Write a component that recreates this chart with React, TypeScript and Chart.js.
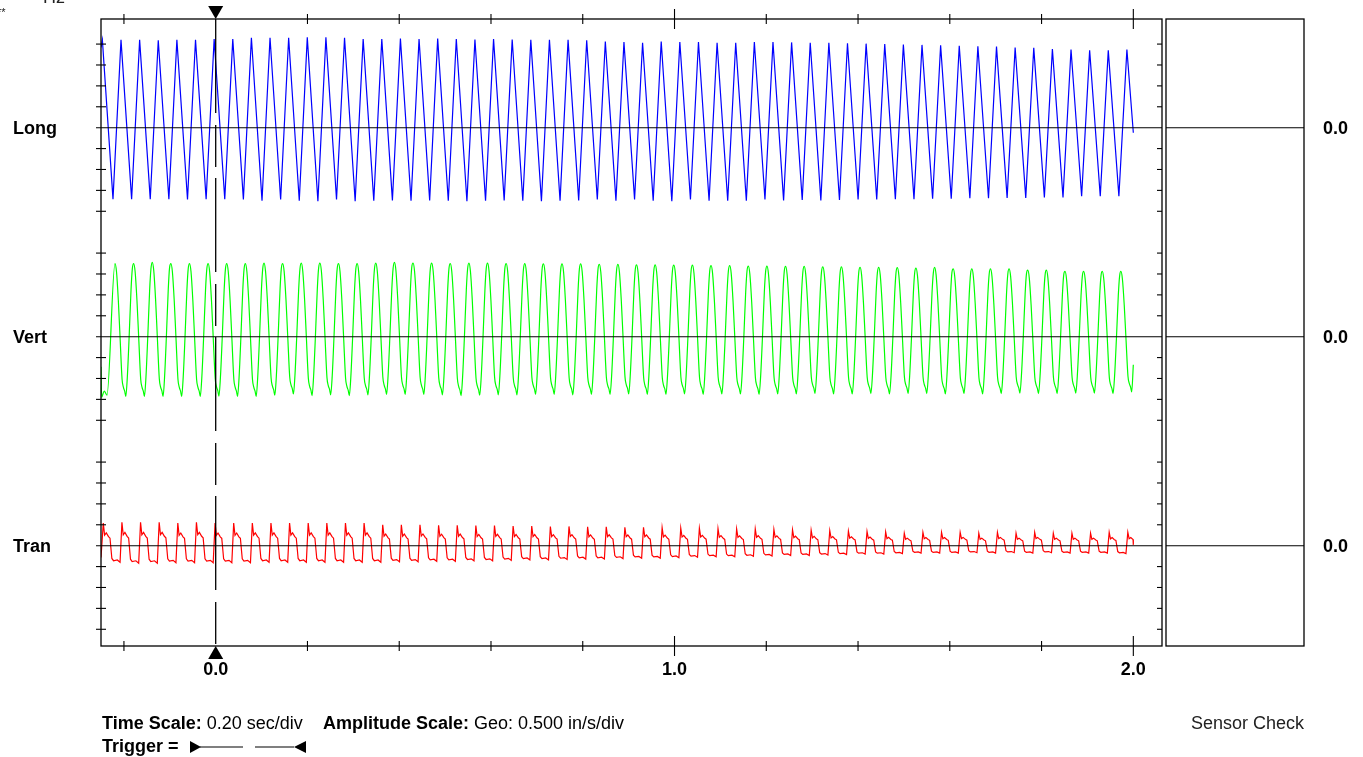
import React, { useEffect, useRef } from "react";
import { Chart, registerables } from "chart.js";

Chart.register(...registerables);

// ---- time base (seconds) read from the record ----
const PERIOD_S = 0.0406;
const TRACE_START_S = -0.25;
const TRACE_END_S = 2.0;
const X_MIN_S = -0.25;
const X_MAX_S = 2.0625;

// ---- Long channel (in/s) ----
const LONG_FIRST_PEAK_S = -0.247;
const LONG_TROUGH_PHASE = 0.57;
const LONG_START = 1.92;
const LONG_END = -0.12;
const LONG_PEAKS = [
  2.10, 2.10, 2.10, 2.09, 2.10, 2.10, 2.12, 2.12, 2.15, 2.15, 2.15, 2.16, 2.16, 2.15, 2.12, 2.12,
  2.13, 2.12, 2.13, 2.12, 2.11, 2.12, 2.11, 2.10, 2.10, 2.10,
  2.09, 2.06, 2.05, 2.03, 2.06, 2.05, 2.05, 2.03, 2.03, 2.05, 2.05,
  2.04, 2.03, 2.03, 2.02, 2.01, 2.00, 1.99, 1.98, 1.97, 1.96, 1.95, 1.94, 1.92,
  1.91, 1.88, 1.87, 1.85, 1.85, 1.87,
];
const LONG_TROUGHS = [
  -1.71, -1.71, -1.71, -1.71, -1.72, -1.71, -1.71, -1.72, -1.75, -1.72, -1.75, -1.76, -1.72, -1.76, -1.75,
  -1.74, -1.75, -1.74, -1.75, -1.76, -1.75, -1.74, -1.75, -1.76, -1.75, -1.74,
  -1.72, -1.75, -1.72, -1.75, -1.76, -1.72, -1.75, -1.75, -1.75, -1.72,
  -1.74, -1.73, -1.74, -1.73, -1.72, -1.72, -1.71, -1.71, -1.70, -1.70, -1.69, -1.69, -1.68, -1.68,
  -1.67, -1.67, -1.64, -1.64, -1.64,
];

// ---- Vert channel (in/s) ----
const VERT_FIRST_PEAK_S = -0.2195;
const VERT_LEAD_S = [-0.25, -0.2485, -0.243, -0.237];
const VERT_LEAD = [-0.72, -1.45, -1.3, -1.4];
const VERT_END = -0.67;
// one cycle of the Vert waveform: phase within the period, level between dip (0) and peak (1)
const VERT_SHAPE_PHASES = [0, 0.08, 0.18, 0.28, 0.38, 0.45, 0.52, 0.58, 0.66, 0.76, 0.86, 0.93];
const VERT_SHAPE_LEVELS = [1, 0.94, 0.72, 0.42, 0.13, 0.07, 0.04, 0, 0.14, 0.45, 0.8, 0.96];
const VERT_PEAKS = [
  1.75, 1.75, 1.78, 1.75, 1.75, 1.75, 1.75, 1.75,
  1.76, 1.75,
  1.76, 1.76, 1.75, 1.75, 1.76, 1.78, 1.76, 1.76, 1.75, 1.76, 1.76,
  1.75, 1.75, 1.74, 1.74, 1.74, 1.73, 1.73, 1.72, 1.72, 1.71, 1.71, 1.70, 1.70, 1.69, 1.69,
  1.68, 1.68, 1.67, 1.67, 1.66, 1.66, 1.65,
  1.64, 1.66, 1.62, 1.62, 1.62, 1.62, 1.59, 1.59, 1.56, 1.56, 1.56, 1.56,
];
const VERT_DIPS = [
  -1.43, -1.43, -1.43, -1.43, -1.43, -1.42, -1.43, -1.43,
  -1.40, -1.37, -1.41, -1.39, -1.41, -1.39, -1.38, -1.38, -1.38, -1.39, -1.41, -1.40, -1.39,
  -1.39, -1.38, -1.38, -1.39, -1.38, -1.38, -1.37, -1.38, -1.38, -1.37, -1.38, -1.37, -1.37, -1.38, -1.37, -1.37, -1.36, -1.37, -1.37, -1.36, -1.37, -1.36,
  -1.36, -1.37, -1.36, -1.37, -1.36, -1.35, -1.36, -1.36, -1.35, -1.35, -1.36, -1.32,
];

// ---- Tran channel (in/s) ----
const TRAN_FIRST_SPIKE_S = -0.245;
const TRAN_START = -0.28;
const TRAN_END = 0.02;
const TRAN_SHAPE_PHASES = [0, 0.07, 0.16, 0.28, 0.36, 0.46, 0.55, 0.75, 0.9];
const TRAN_SHAPE_LEVELS = [1, 0.68, 0.74, 0.64, 0.6, 0.06, 0, 0.02, -0.04];
const TRAN_SPIKES = [
  0.54, 0.56, 0.56, 0.56, 0.54, 0.56, 0.54, 0.54, 0.54, 0.54, 0.54, 0.54, 0.54, 0.54, 0.54, 0.50,
  0.50, 0.50, 0.49, 0.49, 0.48, 0.48, 0.47, 0.47, 0.46, 0.46, 0.45, 0.45, 0.44, 0.44, 0.43, 0.42,
  0.42, 0.41, 0.40, 0.40, 0.39, 0.38, 0.37, 0.36, 0.35, 0.34, 0.33,
  0.30, 0.32, 0.32, 0.32, 0.30, 0.32, 0.30, 0.32, 0.30, 0.30, 0.30, 0.32, 0.32,
];
const TRAN_BOTTOMS = [
  -0.36, -0.38, -0.38, -0.37, -0.37, -0.37, -0.37, -0.37, -0.36, -0.36, -0.36, -0.36, -0.36, -0.36, -0.36, -0.35,
  -0.35, -0.34, -0.34, -0.33, -0.33, -0.32, -0.31, -0.31, -0.30, -0.29, -0.29, -0.28, -0.27, -0.27, -0.26, -0.25,
  -0.24, -0.24, -0.23, -0.22, -0.21, -0.21, -0.20, -0.19, -0.18, -0.18, -0.17,
  -0.16, -0.16, -0.16, -0.15, -0.16, -0.15, -0.16, -0.15, -0.16, -0.16, -0.16, -0.17, -0.16,
];

// ---- axes / labels ----
const CHANNELS = ["Long", "Vert", "Tran"];
const CHANNEL_AXES = ["yLong", "yVert", "yTran"];
const CHANNEL_COLORS = ["#0000ff", "#00ff00", "#ff0000"];
const CHANNEL_RANGES = [
  [-12.4, 2.6],
  [-7.4, 7.6],
  [-2.4, 12.6],
];
const Y_TICKS = [-2, -1.5, -1, -0.5, 0.5, 1, 1.5, 2];
const X_MINOR_TICKS = [-0.2, 0.2, 0.4, 0.6, 0.8, 1.2, 1.4, 1.6, 1.8];
const X_MAJOR_TICKS = [1.0, 2.0];
const X_LABELS = [0, 1, 2];
const TRIGGER_S = 0;

type P = { x: number; y: number };

function buildLong(): P[] {
  const pts: P[] = [{ x: TRACE_START_S, y: LONG_START }];
  LONG_PEAKS.forEach((p, i) => {
    const t = LONG_FIRST_PEAK_S + i * PERIOD_S;
    pts.push({ x: t, y: p });
    if (i < LONG_TROUGHS.length) pts.push({ x: t + LONG_TROUGH_PHASE * PERIOD_S, y: LONG_TROUGHS[i] });
  });
  pts.push({ x: TRACE_END_S, y: LONG_END });
  return pts;
}

function buildVert(): P[] {
  const pts: P[] = VERT_LEAD_S.map((t, k) => ({ x: t, y: VERT_LEAD[k] }));
  VERT_PEAKS.forEach((p, i) => {
    const t0 = VERT_FIRST_PEAK_S + i * PERIOD_S;
    const d = VERT_DIPS[i];
    VERT_SHAPE_PHASES.forEach((ph, k) => {
      const t = t0 + ph * PERIOD_S;
      if (t < TRACE_END_S - 0.0005) pts.push({ x: t, y: d + VERT_SHAPE_LEVELS[k] * (p - d) });
    });
  });
  pts.push({ x: TRACE_END_S, y: VERT_END });
  return pts;
}

function buildTran(): P[] {
  const pts: P[] = [{ x: TRACE_START_S, y: TRAN_START }];
  TRAN_SPIKES.forEach((s, i) => {
    const t0 = TRAN_FIRST_SPIKE_S + i * PERIOD_S;
    const b = TRAN_BOTTOMS[i];
    TRAN_SHAPE_PHASES.forEach((ph, k) => {
      const t = t0 + ph * PERIOD_S;
      if (t < TRACE_END_S) pts.push({ x: t, y: b + TRAN_SHAPE_LEVELS[k] * (s - b) });
    });
  });
  pts.push({ x: TRACE_END_S, y: TRAN_END });
  return pts;
}

const BOLD = "bold 18px 'Liberation Sans', Arial, sans-serif";
const REG = "18px 'Liberation Sans', Arial, sans-serif";

const framePlugin = {
  id: "seismoFrame",
  afterDatasetsDraw(chart: any) {
    const { ctx, chartArea: a, scales } = chart;
    const xs = scales.x;
    const rbLeft = a.right + 4;
    const rbRight = a.right + 142;
    const line = (x1: number, y1: number, x2: number, y2: number) => {
      ctx.beginPath();
      ctx.moveTo(x1, y1);
      ctx.lineTo(x2, y2);
      ctx.stroke();
    };
    ctx.save();
    ctx.strokeStyle = "#000";
    ctx.fillStyle = "#000";
    ctx.lineWidth = 1.3;
    ctx.strokeRect(a.left, a.top, a.right - a.left, a.bottom - a.top);
    ctx.strokeRect(rbLeft, a.top, rbRight - rbLeft, a.bottom - a.top);

    ctx.lineWidth = 1.1;
    ctx.font = BOLD;
    ctx.textBaseline = "alphabetic";
    CHANNEL_AXES.forEach((id, k) => {
      const s = scales[id];
      const y0 = s.getPixelForValue(0);
      line(a.left - 5, y0, a.right, y0);
      line(rbLeft, y0, rbRight, y0);
      Y_TICKS.forEach((v) => {
        const y = s.getPixelForValue(v);
        line(a.left - 5, y, a.left + 5, y);
        line(a.right - 5, y, a.right, y);
      });
      ctx.textAlign = "left";
      ctx.fillText(CHANNELS[k], 13, y0 + 6.5);
      ctx.fillText("0.0", 1323, y0 + 6.5);
    });

    X_MINOR_TICKS.forEach((t) => {
      const x = xs.getPixelForValue(t);
      line(x, a.top - 5, x, a.top + 5);
      line(x, a.bottom - 5, x, a.bottom + 5);
    });
    X_MAJOR_TICKS.forEach((t) => {
      const x = xs.getPixelForValue(t);
      line(x, a.top - 10, x, a.top + 10);
      line(x, a.bottom - 10, x, a.bottom + 10);
    });
    ctx.textAlign = "center";
    X_LABELS.forEach((t) => {
      const x = xs.getPixelForValue(t);
      ctx.fillText(t.toFixed(1), x, a.bottom + 29);
    });

    // trigger line (long-short dash) and markers
    const xt = xs.getPixelForValue(TRIGGER_S);
    ctx.lineWidth = 1.3;
    ctx.setLineDash([94, 12, 42, 11]);
    line(xt, a.top, xt, a.bottom);
    ctx.setLineDash([]);
    ctx.beginPath();
    ctx.moveTo(xt - 7.5, a.top - 13);
    ctx.lineTo(xt + 7.5, a.top - 13);
    ctx.lineTo(xt, a.top);
    ctx.closePath();
    ctx.fill();
    ctx.beginPath();
    ctx.moveTo(xt - 7.5, a.bottom + 13);
    ctx.lineTo(xt + 7.5, a.bottom + 13);
    ctx.lineTo(xt, a.bottom);
    ctx.closePath();
    ctx.fill();

    // footer
    ctx.textAlign = "left";
    const y1 = 729;
    const y2 = 752;
    ctx.font = BOLD;
    ctx.fillText("Time Scale:", 102, y1);
    let w = ctx.measureText("Time Scale: ").width;
    ctx.font = REG;
    ctx.fillText("0.20 sec/div", 102 + w, y1);
    ctx.font = BOLD;
    ctx.fillText("Amplitude Scale:", 323, y1);
    w = ctx.measureText("Amplitude Scale: ").width;
    ctx.font = REG;
    ctx.fillText("Geo: 0.500 in/s/div", 323 + w, y1);
    ctx.textAlign = "right";
    ctx.fillStyle = "#222";
    ctx.fillText("Sensor Check", 1304, y1);
    ctx.fillStyle = "#000";
    ctx.textAlign = "left";
    ctx.font = BOLD;
    ctx.fillText("Trigger =", 102, y2);
    const ym = 747;
    ctx.beginPath();
    ctx.moveTo(190, ym - 6);
    ctx.lineTo(201, ym);
    ctx.lineTo(190, ym + 6);
    ctx.closePath();
    ctx.fill();
    ctx.lineWidth = 1.2;
    line(200, ym, 243, ym);
    line(255, ym, 294, ym);
    ctx.beginPath();
    ctx.moveTo(306, ym - 6);
    ctx.lineTo(294, ym);
    ctx.lineTo(306, ym + 6);
    ctx.closePath();
    ctx.fill();

    // clipped header remnants
    ctx.font = REG;
    ctx.fillStyle = "#222";
    ctx.fillText("Hz", 43, 3);
    ctx.font = "11px 'Liberation Sans', Arial, sans-serif";
    ctx.fillText("**", -3, 16);
    ctx.restore();
  },
};

export default function App() {
  const ref = useRef<HTMLCanvasElement>(null);
  useEffect(() => {
    const builders = [buildLong, buildVert, buildTran];
    const scales: any = {
      x: { type: "linear", min: X_MIN_S, max: X_MAX_S, display: false },
    };
    CHANNEL_AXES.forEach((id, k) => {
      scales[id] = { type: "linear", min: CHANNEL_RANGES[k][0], max: CHANNEL_RANGES[k][1], display: false };
    });
    const chart = new Chart(ref.current as HTMLCanvasElement, {
      type: "line",
      data: {
        datasets: CHANNELS.map((name, k) => ({
          label: name,
          data: builders[k](),
          yAxisID: CHANNEL_AXES[k],
          borderColor: CHANNEL_COLORS[k],
          borderWidth: 1.2,
          pointRadius: 0,
          fill: false,
          tension: 0,
          cubicInterpolationMode: k === 1 ? "monotone" : "default",
        })) as any,
      },
      options: {
        animation: false,
        responsive: false,
        devicePixelRatio: 1,
        events: [],
        layout: { padding: { left: 101, top: 19, right: 201, bottom: 111 } },
        plugins: { legend: { display: false }, tooltip: { enabled: false } },
        scales,
      },
      plugins: [framePlugin],
    });
    return () => chart.destroy();
  }, []);
  return (
    <div style={{ position: "fixed", left: 0, top: 0, width: 1363, height: 757, background: "#fff" }}>
      <canvas ref={ref} width={1363} height={757} style={{ display: "block" }} />
    </div>
  );
}
